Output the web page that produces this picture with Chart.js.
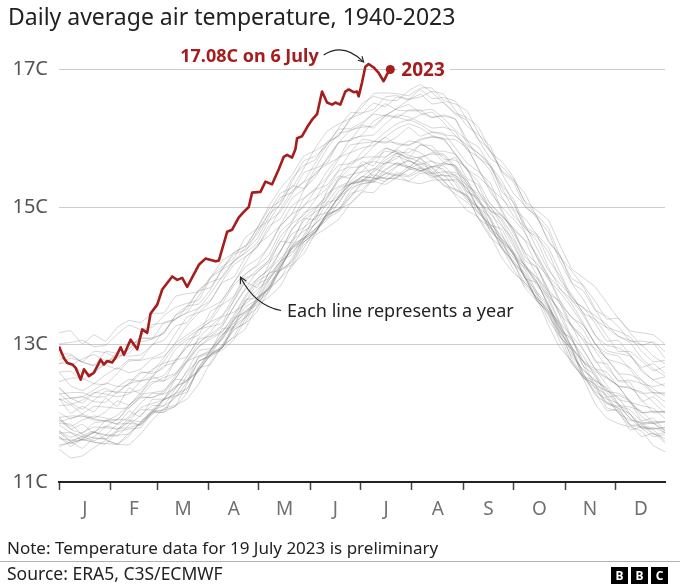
<!DOCTYPE html>
<html><head><meta charset="utf-8">
<script src="https://cdn.jsdelivr.net/npm/chart.js@4.4.0/dist/chart.umd.min.js"></script>
<style>
html,body{margin:0;padding:0;background:#fff;}
#wrap{position:relative;width:680px;height:587px;overflow:hidden;font-family:"Noto Sans",sans-serif;}
#chart{position:absolute;left:0;top:0;}
#title{position:absolute;left:8px;top:4.5px;font-size:23px;line-height:23px;color:#222;white-space:nowrap;}
#note{position:absolute;left:7px;top:539px;font-size:17px;line-height:17px;color:#222;white-space:nowrap;}
#sep{position:absolute;left:0;top:561px;width:680px;height:1px;background:#b0b0b0;}
#source{position:absolute;left:7px;top:565px;font-size:17.5px;line-height:17.5px;color:#222;white-space:nowrap;}
#bbc{position:absolute;right:12px;top:567px;display:flex;gap:3px;}
#bbc span{width:17px;height:17px;background:#000;color:#fff;font-weight:bold;font-size:12px;line-height:17px;text-align:center;}
</style></head><body>
<div id="wrap">
<canvas id="chart" width="680" height="587"></canvas>
<div id="title">Daily average air temperature, 1940-2023</div>
<div id="note">Note: Temperature data for 19 July 2023 is preliminary</div>
<div id="sep"></div>
<div id="source">Source: ERA5, C3S/ECMWF</div>
<div id="bbc"><span>B</span><span>B</span><span>C</span></div>
</div>
<script>
// ---- x positions (day of year, 0 = 1 Jan) ----
const weekDays = [0,7,14,21,28,35,42,49,56,63,70,77,84,91,98,105,112,119,126,133,140,147,154,161,168,175,182,189,196,203,210,217,224,231,238,245,252,259,266,273,280,287,294,301,308,315,322,329,336,343,350,357,364];

// ---- 2023 (red) ----
const days2023 = [0,3,5,8,10,13,15,18,21,25,27,29,32,34,37,39,43,47,50,53,55,59,62,68,71,74,77,84,88,94,96,101,104,108,111,114,116,121,124,128,132,135,137,140,142,143,146,149,152,155,158,161,164,166,169,172,174,177,179,180,182,184,186,189,192,195,197,199];
const temps2023 = [12.97,12.80,12.73,12.71,12.66,12.49,12.64,12.54,12.59,12.78,12.71,12.76,12.74,12.81,12.96,12.85,13.07,12.93,13.22,13.17,13.45,13.58,13.80,13.99,13.94,13.97,13.84,14.16,14.25,14.21,14.22,14.64,14.67,14.85,14.93,15.00,15.21,15.22,15.37,15.33,15.55,15.73,15.76,15.72,15.84,16.00,16.03,16.16,16.27,16.35,16.68,16.52,16.49,16.52,16.49,16.68,16.71,16.67,16.68,16.61,16.81,17.04,17.08,17.03,16.95,16.83,16.93,17.00];

// ---- earlier years (grey), weekly values ----
const t1940 = [11.72,11.59,11.67,11.74,11.62,11.74,11.89,11.82,12.03,12.01,12.30,12.49,12.61,12.86,12.95,13.27,13.40,13.53,13.88,14.07,14.22,14.53,14.65,14.90,14.97,15.23,15.39,15.36,15.49,15.45,15.59,15.53,15.57,15.39,15.38,15.13,14.99,14.65,14.49,14.17,14.01,13.64,13.46,13.11,12.93,12.51,12.43,12.14,12.08,11.83,11.83,11.69,11.72];
const t1941 = [11.75,11.60,11.62,11.73,11.81,11.78,11.79,11.84,12.01,12.20,12.38,12.48,12.64,12.84,13.11,13.36,13.48,13.58,13.83,14.12,14.39,14.49,14.63,14.92,15.14,15.27,15.34,15.37,15.53,15.64,15.59,15.53,15.45,15.46,15.43,15.28,14.97,14.69,14.53,14.32,13.96,13.66,13.50,13.30,12.96,12.58,12.31,12.21,12.14,11.98,11.79,11.78,11.79];
const t1942 = [11.51,11.58,11.49,11.64,11.62,11.55,11.67,11.86,12.03,12.05,12.10,12.30,12.66,12.71,12.98,13.22,13.31,13.48,13.79,14.08,14.16,14.32,14.62,14.86,14.97,15.05,15.21,15.41,15.42,15.41,15.38,15.49,15.49,15.31,15.26,15.16,14.83,14.56,14.42,14.19,13.82,13.64,13.45,13.04,12.72,12.53,12.30,12.04,12.05,11.84,11.66,11.71,11.57];
const t1945 = [11.85,11.84,11.69,11.64,11.63,11.76,11.93,12.05,12.05,12.11,12.36,12.61,12.76,12.85,12.99,13.29,13.55,13.65,13.83,14.16,14.43,14.55,14.68,14.90,15.15,15.35,15.40,15.39,15.48,15.60,15.67,15.58,15.49,15.51,15.46,15.31,14.97,14.71,14.54,14.35,13.98,13.67,13.53,13.28,12.92,12.54,12.47,12.37,12.14,11.92,11.85,11.88,11.87];
const t1947 = [11.54,11.57,11.61,11.58,11.56,11.55,11.71,11.86,12.00,12.02,12.11,12.43,12.75,12.84,12.96,13.12,13.42,13.68,13.80,13.96,14.26,14.53,14.76,14.88,14.97,15.15,15.36,15.47,15.41,15.43,15.55,15.63,15.53,15.37,15.24,15.16,15.00,14.74,14.40,14.18,14.04,13.72,13.36,13.11,12.92,12.57,12.27,12.15,12.07,11.99,11.78,11.66,11.69];
const t1950 = [11.48,11.35,11.38,11.50,11.60,11.55,11.54,11.70,11.90,12.07,12.12,12.21,12.43,12.74,12.98,13.10,13.23,13.56,13.69,13.85,14.17,14.45,14.59,14.70,14.82,15.05,15.22,15.21,15.39,15.47,15.37,15.34,15.39,15.39,15.16,14.95,14.85,14.59,14.26,14.04,13.90,13.67,13.28,12.95,12.76,12.50,12.14,11.93,11.85,11.80,11.74,11.53,11.44];
const t1952 = [11.66,11.56,11.63,11.72,11.69,11.68,11.70,11.87,12.05,12.20,12.25,12.36,12.63,12.85,12.92,13.07,13.37,13.66,13.82,13.97,14.13,14.40,14.68,14.84,14.93,15.14,15.33,15.37,15.33,15.43,15.54,15.57,15.46,15.33,15.19,15.07,14.92,14.73,14.42,14.09,13.86,13.69,13.49,13.13,12.74,12.52,12.38,12.26,12.01,11.82,11.81,11.79,11.72];
const t1955 = [11.66,11.52,11.62,11.58,11.55,11.73,11.77,11.79,12.01,12.05,12.25,12.31,12.67,12.88,12.95,13.21,13.32,13.64,13.80,14.09,14.20,14.49,14.62,14.89,14.95,15.19,15.25,15.42,15.37,15.50,15.46,15.56,15.42,15.48,15.26,15.17,14.83,14.71,14.39,14.22,13.97,13.63,13.48,13.24,12.79,12.54,12.41,12.08,12.03,11.76,11.80,11.76,11.59];
const t1958 = [11.94,11.96,11.96,11.92,11.89,11.97,12.12,12.24,12.23,12.32,12.55,12.76,12.83,12.92,13.07,13.36,13.62,13.80,13.93,14.18,14.51,14.65,14.75,14.97,15.23,15.34,15.38,15.51,15.64,15.74,15.67,15.62,15.67,15.52,15.50,15.39,15.11,14.81,14.50,14.34,14.15,13.92,13.56,13.23,13.06,12.83,12.53,12.30,12.12,12.09,12.03,11.86,11.75];
const t1960 = [11.74,11.65,11.72,11.80,11.79,11.77,11.87,12.08,12.14,12.20,12.28,12.55,12.81,12.88,13.11,13.38,13.47,13.64,13.97,14.21,14.31,14.59,14.86,14.92,15.05,15.33,15.44,15.43,15.65,15.62,15.58,15.70,15.58,15.45,15.47,15.23,15.13,14.83,14.46,14.26,14.11,13.91,13.55,13.18,12.94,12.75,12.41,12.33,12.23,11.99,11.84,11.86,11.88];
const t1963 = [11.83,11.72,11.61,11.66,11.80,11.91,11.90,11.88,12.02,12.21,12.40,12.46,12.63,12.91,13.14,13.31,13.45,13.61,13.93,14.21,14.35,14.49,14.64,14.91,15.15,15.33,15.37,15.40,15.55,15.64,15.56,15.52,15.59,15.60,15.44,15.19,14.91,14.75,14.58,14.30,13.97,13.77,13.57,13.25,12.87,12.62,12.49,12.35,12.12,11.93,11.78,11.77,11.79];
const t1965 = [11.63,11.61,11.65,11.72,11.68,11.67,11.83,11.97,12.11,12.11,12.22,12.46,12.76,12.82,12.95,13.26,13.49,13.62,13.76,14.12,14.41,14.53,14.64,14.87,15.14,15.33,15.44,15.56,15.50,15.47,15.44,15.52,15.59,15.55,15.34,15.10,14.99,14.85,14.52,14.18,13.89,13.74,13.54,13.15,12.83,12.63,12.47,12.22,12.00,11.90,11.87,11.85,11.72];
const t1968 = [11.71,11.72,11.66,11.60,11.68,11.84,11.85,11.84,11.98,12.19,12.29,12.36,12.67,12.92,13.15,13.24,13.39,13.68,13.82,14.12,14.41,14.55,14.68,14.81,15.07,15.28,15.44,15.42,15.43,15.59,15.68,15.59,15.50,15.40,15.40,15.27,14.95,14.66,14.49,14.31,14.09,13.76,13.42,13.17,12.97,12.69,12.36,12.16,12.10,12.05,11.87,11.71,11.63];
const t1970 = [11.95,11.77,11.71,11.86,11.88,11.85,11.95,12.15,12.29,12.28,12.37,12.62,12.91,12.94,13.08,13.34,13.62,13.88,13.96,14.14,14.40,14.52,14.78,15.06,15.28,15.33,15.38,15.53,15.68,15.78,15.72,15.65,15.58,15.64,15.60,15.35,15.06,14.95,14.61,14.30,14.15,13.97,13.65,13.29,12.96,12.75,12.58,12.32,12.29,12.19,11.95,11.85,11.88];
const t1973 = [12.01,11.92,11.99,12.10,12.09,12.07,12.08,12.24,12.43,12.52,12.58,12.77,12.97,13.11,13.19,13.43,13.71,13.95,14.09,14.25,14.43,14.69,14.96,15.19,15.30,15.37,15.52,15.69,15.81,15.78,15.70,15.73,15.77,15.75,15.55,15.31,15.19,15.01,14.74,14.43,14.13,13.97,13.77,13.41,13.07,12.74,12.61,12.51,12.39,12.17,12.01,12.03,12.02];
const t1975 = [11.91,11.77,11.84,11.71,11.90,11.84,12.03,11.95,12.20,12.21,12.49,12.48,12.83,12.90,13.23,13.25,13.65,13.68,14.04,14.08,14.46,14.55,14.88,15.07,15.11,15.43,15.62,15.44,15.61,15.78,15.57,15.72,15.48,15.64,15.58,15.22,15.11,14.74,14.68,14.33,13.96,13.90,13.59,13.20,13.09,12.68,12.56,12.24,12.26,12.17,11.89,11.93,11.74];
const t1978 = [11.87,11.93,11.96,11.90,11.89,11.91,12.08,12.22,12.23,12.29,12.51,12.74,12.97,13.08,13.18,13.40,13.68,13.92,14.02,14.21,14.52,14.80,14.93,15.03,15.17,15.42,15.61,15.66,15.63,15.71,15.85,15.79,15.66,15.62,15.61,15.39,15.08,14.90,14.72,14.52,14.17,13.86,13.68,13.32,13.12,12.92,12.65,12.41,12.20,12.16,12.11,12.07,11.92];
const t1980 = [12.11,12.12,11.99,11.93,12.02,12.18,12.12,12.30,12.46,12.47,12.57,12.82,13.08,13.12,13.26,13.55,13.80,13.95,14.10,14.35,14.69,14.84,14.98,15.11,15.39,15.57,15.59,15.72,15.86,15.80,15.79,15.90,15.89,15.70,15.68,15.57,15.22,14.95,14.83,14.56,14.22,14.12,13.78,13.43,13.27,12.92,12.65,12.60,12.39,12.38,12.20,12.01,12.01];
const t1983 = [12.20,12.22,12.24,12.17,12.16,12.31,12.43,12.47,12.50,12.55,12.77,12.97,13.03,13.15,13.28,13.55,13.82,14.06,14.19,14.36,14.67,14.91,15.00,15.15,15.42,15.65,15.72,15.73,15.73,15.85,15.96,15.93,15.82,15.81,15.77,15.55,15.23,15.05,14.88,14.66,14.33,14.01,13.71,13.49,13.28,13.05,12.78,12.53,12.40,12.36,12.31,12.16,12.00];
const t1985 = [11.91,11.81,11.90,11.96,11.93,11.90,12.11,12.27,12.30,12.33,12.51,12.77,13.02,13.18,13.40,13.47,13.59,13.74,14.04,14.36,14.61,14.70,14.84,15.14,15.40,15.47,15.51,15.55,15.72,15.83,15.75,15.71,15.79,15.77,15.59,15.34,15.15,15.00,14.80,14.47,14.13,13.90,13.71,13.47,13.10,12.76,12.64,12.52,12.40,12.15,12.01,12.02,12.03];
const t1988 = [12.21,12.13,12.19,12.30,12.28,12.24,12.28,12.47,12.64,12.73,12.78,12.96,13.21,13.33,13.41,13.63,13.92,14.09,14.22,14.49,14.78,15.03,15.13,15.27,15.52,15.59,15.80,15.95,15.95,15.93,15.90,15.99,16.02,15.98,15.78,15.55,15.44,15.27,14.93,14.62,14.34,14.18,13.97,13.59,13.25,13.08,12.94,12.80,12.58,12.37,12.29,12.30,12.28];
const t1990 = [12.29,12.15,12.06,12.19,12.32,12.31,12.30,12.34,12.53,12.69,12.74,13.02,13.22,13.27,13.42,13.69,13.96,14.04,14.23,14.57,14.76,14.88,15.11,15.41,15.61,15.63,15.71,15.88,16.01,15.91,15.90,15.97,16.02,16.00,15.76,15.54,15.36,15.05,14.86,14.70,14.50,14.14,13.80,13.59,13.40,13.21,12.91,12.67,12.48,12.48,12.43,12.29,12.17];
const t1993 = [12.22,12.00,12.10,12.02,12.22,12.10,12.37,12.28,12.53,12.47,12.77,12.82,13.10,13.26,13.31,13.65,13.91,13.83,14.16,14.50,14.48,14.83,14.82,15.24,15.45,15.42,15.66,15.60,15.85,15.80,15.71,15.91,15.83,15.65,15.72,15.42,15.32,14.94,14.88,14.67,14.27,14.12,13.74,13.63,13.27,13.12,12.75,12.72,12.46,12.45,12.17,12.24,12.08];
const t1996 = [12.38,12.22,12.15,12.29,12.36,12.29,12.44,12.60,12.58,12.66,12.93,13.07,13.14,13.48,13.58,13.70,14.02,14.14,14.30,14.64,14.80,15.12,15.25,15.32,15.54,15.79,15.98,15.96,15.93,16.02,16.16,16.03,16.09,16.07,15.86,15.64,15.51,15.35,14.96,14.67,14.52,14.31,13.99,13.64,13.39,13.28,13.02,12.79,12.58,12.56,12.48,12.30,12.30];
const t1998 = [12.72,12.73,12.59,12.58,12.74,12.84,12.83,12.85,12.99,13.19,13.38,13.46,13.53,13.74,13.99,14.22,14.33,14.48,14.79,15.06,15.31,15.27,15.44,15.71,15.94,15.97,16.05,16.25,16.34,16.31,16.26,16.34,16.38,16.23,16.04,15.90,15.78,15.59,15.32,15.11,14.74,14.40,14.08,13.88,13.70,13.46,13.14,12.91,12.87,12.83,12.64,12.48,12.39];
const t2000 = [12.28,12.30,12.30,12.24,12.24,12.38,12.49,12.47,12.54,12.76,12.98,13.10,13.22,13.34,13.59,13.86,14.03,14.16,14.44,14.72,14.90,15.00,15.25,15.52,15.72,15.79,15.86,15.90,16.02,16.14,16.21,16.15,16.04,15.99,15.98,15.86,15.56,15.22,15.00,14.82,14.62,14.26,13.94,13.76,13.53,13.28,13.01,12.79,12.74,12.67,12.48,12.35,12.25];
const t2002 = [12.60,12.40,12.33,12.43,12.56,12.66,12.59,12.64,12.79,12.83,13.03,13.28,13.46,13.54,13.64,13.90,14.19,14.45,14.58,14.73,14.91,15.24,15.50,15.62,15.72,15.99,16.03,16.05,16.21,16.34,16.31,16.23,16.15,16.16,16.10,15.83,15.73,15.53,15.15,14.87,14.70,14.51,14.12,13.81,13.65,13.42,13.13,12.99,12.95,12.85,12.61,12.49,12.53];
const t2005 = [12.60,12.61,12.48,12.62,12.70,12.64,12.78,12.78,13.00,13.06,13.27,13.32,13.53,13.64,13.90,13.98,14.27,14.41,14.72,14.83,15.13,15.26,15.56,15.64,15.94,15.97,16.19,16.15,16.32,16.30,16.41,16.41,16.30,16.34,16.28,15.93,15.78,15.63,15.22,15.07,14.68,14.57,14.34,13.94,13.73,13.45,13.37,13.13,12.90,12.90,12.76,12.62,12.68];
const t2008 = [12.36,12.22,12.24,12.34,12.44,12.39,12.41,12.58,12.61,12.81,13.02,13.14,13.26,13.38,13.65,13.90,14.13,14.24,14.41,14.74,15.02,15.13,15.27,15.43,15.70,15.90,15.93,15.95,16.09,16.21,16.27,16.20,16.09,16.05,16.03,15.88,15.54,15.28,15.12,14.95,14.63,14.28,13.99,13.81,13.59,13.31,13.01,12.87,12.83,12.64,12.43,12.39,12.43];
const t2010 = [12.72,12.80,12.75,12.69,12.90,12.87,12.87,13.08,13.10,13.16,13.42,13.52,13.80,13.91,13.97,14.21,14.41,14.68,14.80,14.93,15.19,15.50,15.57,15.85,16.07,16.11,16.20,16.37,16.50,16.41,16.40,16.40,16.42,16.29,16.12,15.97,15.87,15.59,15.28,14.97,14.83,14.60,14.23,14.00,13.64,13.54,13.31,13.05,13.06,12.85,12.67,12.72,12.58];
const t2012 = [12.46,12.51,12.51,12.43,12.42,12.58,12.76,12.77,12.81,12.89,13.16,13.40,13.47,13.63,13.92,14.16,14.28,14.42,14.67,14.97,15.24,15.36,15.47,15.69,15.93,16.12,16.16,16.18,16.33,16.43,16.49,16.37,16.31,16.32,16.28,15.98,15.71,15.60,15.38,15.05,14.72,14.60,14.41,14.05,13.68,13.53,13.42,13.29,13.12,13.03,12.80,12.65,12.54];
const t2015 = [12.84,12.70,12.79,12.85,12.77,12.79,12.94,13.10,13.08,13.17,13.43,13.56,13.59,13.80,14.09,14.31,14.38,14.54,14.85,15.14,15.21,15.37,15.64,15.91,16.13,16.14,16.23,16.35,16.33,16.44,16.56,16.71,16.58,16.59,16.54,16.27,15.98,15.71,15.59,15.40,15.08,14.95,14.81,14.44,14.10,13.97,13.84,13.61,13.38,13.20,13.17,13.14,13.00];
const t2016 = [13.17,13.20,13.01,13.14,13.05,13.25,13.35,13.32,13.45,13.46,13.70,13.74,13.77,13.98,14.13,14.25,14.56,14.69,14.97,15.09,15.42,15.60,15.69,15.95,16.03,16.29,16.36,16.51,16.46,16.60,16.56,16.64,16.50,16.52,16.35,16.26,15.98,15.83,15.51,15.36,15.00,14.87,14.49,14.30,13.90,13.78,13.50,13.41,13.26,13.05,13.05,13.02,12.80];
const t2019 = [12.77,12.84,12.75,12.90,12.88,12.81,12.93,13.12,13.29,13.31,13.36,13.56,13.78,13.83,14.10,14.34,14.43,14.60,14.91,15.20,15.28,15.56,15.86,16.10,16.21,16.29,16.45,16.65,16.66,16.65,16.62,16.73,16.73,16.55,16.50,16.40,16.07,15.80,15.66,15.43,15.06,14.88,14.69,14.28,13.96,13.86,13.63,13.37,13.38,13.17,12.99,13.04,12.90];
const t2020 = [13.01,13.03,13.06,12.97,12.99,13.15,13.28,13.22,13.25,13.42,13.54,13.60,13.65,13.97,14.22,14.33,14.44,14.69,15.01,15.27,15.47,15.74,15.82,15.93,16.04,16.27,16.50,16.61,16.56,16.55,16.69,16.78,16.67,16.51,16.37,16.30,16.16,15.82,15.53,15.39,15.19,14.85,14.52,14.27,14.07,13.84,13.52,13.24,13.12,13.06,12.99,12.83,12.72];
const t2022 = [12.86,12.86,12.74,12.70,12.71,12.89,13.02,13.04,13.08,13.32,13.37,13.47,13.71,13.97,14.09,14.20,14.35,14.64,14.90,15.03,15.37,15.67,15.74,15.90,16.15,16.37,16.37,16.42,16.60,16.62,16.57,16.60,16.68,16.64,16.41,16.18,16.05,15.89,15.49,15.20,15.02,14.84,14.63,14.21,13.89,13.65,13.36,13.25,13.19,13.11,12.90,12.75,12.77];

const greyYears = [1940,1941,1942,1945,1947,1950,1952,1955,1958,1960,1963,1965,1968,1970,1973,1975,1978,1980,1983,1985,1988,1990,1993,1996,1998,2000,2002,2005,2008,2010,2012,2015,2016,2019,2020,2022];
const greySeries = [t1940,t1941,t1942,t1945,t1947,t1950,t1952,t1955,t1958,t1960,t1963,t1965,t1968,t1970,t1973,t1975,t1978,t1980,t1983,t1985,t1988,t1990,t1993,t1996,t1998,t2000,t2002,t2005,t2008,t2010,t2012,t2015,t2016,t2019,t2020,t2022];

// ---- axes ----
const monthStarts = [0,31,59,90,120,151,181,212,243,273,304,334];
const monthMids = [15.5,45,74.5,105,135.5,166,196.5,227.5,258,288.5,319,349.5];
const monthLabels = ['J','F','M','A','M','J','J','A','S','O','N','D'];
const yTicks = [11,13,15,17];

const RED = '#a51d1d';
const FONT = '"Noto Sans", sans-serif';
Chart.defaults.font.family = FONT;

const datasets = [{
  label: '2023',
  data: days2023.map((d,i)=>({x:d, y:temps2023[i]})),
  borderColor: RED, backgroundColor: RED, borderWidth: 2.6,
  pointRadius: c => c.dataIndex === days2023.length-1 ? 4.5 : 0,
  pointBorderWidth: 0, pointBackgroundColor: RED,
  tension: 0, order: 0, borderJoinStyle:'round'
}];
greySeries.forEach((vals, k) => {
  datasets.push({
    label: String(greyYears[k]),
    data: weekDays.map((d,i)=>({x:d, y:vals[i]})),
    borderColor: 'rgba(105,105,105,0.27)', borderWidth: 1,
    pointRadius: 0, tension: 0.1, order: 1
  });
});

function arrowHead(ctx, tx, ty, fromX, fromY, len){
  const a = Math.atan2(ty-fromY, tx-fromX);
  ctx.beginPath();
  ctx.moveTo(tx - len*Math.cos(a-0.5), ty - len*Math.sin(a-0.5));
  ctx.lineTo(tx, ty);
  ctx.lineTo(tx - len*Math.cos(a+0.5), ty - len*Math.sin(a+0.5));
  ctx.stroke();
}

const annotations = {
  id: 'annotations',
  afterDatasetsDraw(chart){
    const {ctx, scales:{x, y}} = chart;
    ctx.save();
    // "2023" label at end of line
    const ex = x.getPixelForValue(days2023[days2023.length-1]);
    const ey = y.getPixelForValue(temps2023[temps2023.length-1]);
    ctx.font = 'bold 19px ' + FONT;
    ctx.textBaseline = 'middle';
    const w = ctx.measureText('2023').width;
    ctx.fillStyle = '#fff';
    ctx.fillRect(ex+7, ey-11, w+9, 22);
    ctx.fillStyle = RED;
    ctx.fillText('2023', ex+11, ey+1);

    // peak label
    const pi = temps2023.indexOf(Math.max(...temps2023));
    const px = x.getPixelForValue(days2023[pi]);
    const py = y.getPixelForValue(temps2023[pi]);
    ctx.font = 'bold 18px ' + FONT;
    ctx.textAlign = 'right';
    ctx.fillText('17.08C on 6 July', px-50, py-7);
    ctx.strokeStyle = '#222'; ctx.lineWidth = 1.1;
    const sx = px-45, sy = py-9, cx = px-25, cy = py-22, tx = px-5, ty = py-2;
    ctx.beginPath(); ctx.moveTo(sx, sy); ctx.quadraticCurveTo(cx, cy, tx, ty); ctx.stroke();
    arrowHead(ctx, tx, ty, cx, cy, 6);

    // "Each line represents a year"
    const lx = x.getPixelForValue(137), ly = y.getPixelForValue(13.48);
    ctx.font = '18px ' + FONT;
    ctx.textAlign = 'left';
    ctx.fillStyle = '#222';
    ctx.fillText('Each line represents a year', lx, ly);
    const ax = x.getPixelForValue(109), ay = y.getPixelForValue(13.98);
    const acx = lx-32, acy = ly-6;
    ctx.beginPath(); ctx.moveTo(lx-6, ly-1); ctx.quadraticCurveTo(acx, acy, ax, ay); ctx.stroke();
    arrowHead(ctx, ax, ay, acx, acy, 7);
    ctx.restore();
  }
};

new Chart(document.getElementById('chart'), {
  type: 'line',
  data: { datasets },
  plugins: [annotations],
  options: {
    responsive: false, animation: false, events: [],
    layout: { padding: { top: 38.6, right: 15, left: 0, bottom: 0 } },
    plugins: { legend: {display:false}, tooltip: {enabled:false} },
    scales: {
      x: {
        type: 'linear', min: 0, max: 364,
        afterBuildTicks: s => { s.ticks = monthStarts.concat(monthMids).sort((a,b)=>a-b).map(v=>({value:v})); },
        afterFit: s => { s.height = 105; },
        ticks: { autoSkip:false, maxRotation:0, padding: 8, color:'#707070', font:{size:19},
          callback: v => { const i = monthMids.indexOf(v); return i >= 0 ? monthLabels[i] : ''; } },
        grid: { drawOnChartArea:false, drawTicks:true, tickLength:8, tickWidth:1.5,
          tickColor: c => (c.tick && monthStarts.includes(c.tick.value)) ? '#444' : 'rgba(0,0,0,0)' },
        border: { display:true, color:'#222', width:2 }
      },
      y: {
        min: 11, max: 17.45,
        afterBuildTicks: s => { s.ticks = yTicks.map(v=>({value:v})); },
        afterFit: s => { s.width = 59; },
        ticks: { color:'#555', font:{size:20}, padding: 11, callback: v => v + 'C' },
        grid: { drawTicks:false, lineWidth:1, color: c => (c.tick && c.tick.value === 11) ? 'rgba(0,0,0,0)' : '#cccccc' },
        border: { display:false }
      }
    }
  }
});
</script>
</body></html>
